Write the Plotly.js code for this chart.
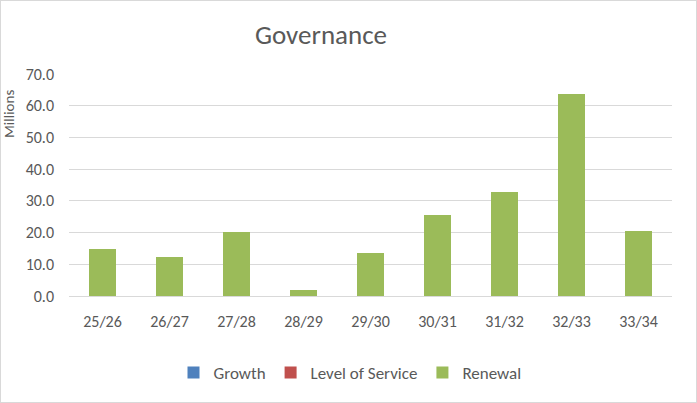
<!DOCTYPE html>
<html>
<head>
<meta charset="utf-8">
<script src="https://cdn.plot.ly/plotly-3.0.1.min.js"></script>
<style>
html,body{margin:0;padding:0;background:#fff;}
#chart{width:695px;height:401px;border:1px solid #d9d9d9;}
</style>
</head>
<body>
<div id="chart"></div>
<script>
var categories = ["25/26","26/27","27/28","28/29","29/30","30/31","31/32","32/33","33/34"];
var growth = [0,0,0,0,0,0,0,0,0];
var levelOfService = [0,0,0,0,0,0,0,0,0];
var renewal = [14.9,12.4,20.2,1.9,13.7,25.6,32.7,63.6,20.5];

var font = "Carlito, Lato, 'Open Sans', sans-serif";
var traces = [
  {type:'bar', name:'Growth', x:categories, y:growth, marker:{color:'#4f81bd'}, width:0.4},
  {type:'bar', name:'Level of Service', x:categories, y:levelOfService, marker:{color:'#c0504d'}, width:0.4},
  {type:'bar', name:'Renewal', x:categories, y:renewal, marker:{color:'#9bbb59'}, width:0.4}
];
var layout = {
  width:695, height:401,
  margin:{l:68, r:24, t:73, b:106},
  paper_bgcolor:'#fff', plot_bgcolor:'#fff',
  barmode:'stack',
  font:{family:font, color:'#595959', size:16},
  title:{text:'Governance', x:320/695, xref:'container', xanchor:'center', y:1-34/401, yanchor:'middle', yref:'container', font:{size:27, color:'#595959', family:font}},
  xaxis:{showgrid:false, zeroline:false, showline:false, ticks:'', ticklabelstandoff:14, tickfont:{size:16, color:'#595959'}},
  yaxis:{range:[0,70], dtick:10, tickformat:'.1f', showgrid:true, gridcolor:'#d9d9d9', gridwidth:1, zeroline:true, zerolinecolor:'#d9d9d9', zerolinewidth:1, showline:false, ticks:'', ticklabelstandoff:14, tickfont:{size:16, color:'#595959'}},
  legend:{orientation:'h', x:349/695, xanchor:'center', xref:'container', y:1-372/401, yref:'container', yanchor:'middle', font:{size:17, color:'#595959'}, itemwidth:30, traceorder:'normal'},
  annotations:[{text:'Millions', textangle:-90, xref:'paper', yref:'paper', x:-60/603, y:(296-114)/222, xanchor:'center', yanchor:'middle', showarrow:false, font:{size:15, color:'#595959'}}],
  showlegend:true
};
Plotly.newPlot('chart', traces, layout, {displayModeBar:false, staticPlot:true});
</script>
</body>
</html>
